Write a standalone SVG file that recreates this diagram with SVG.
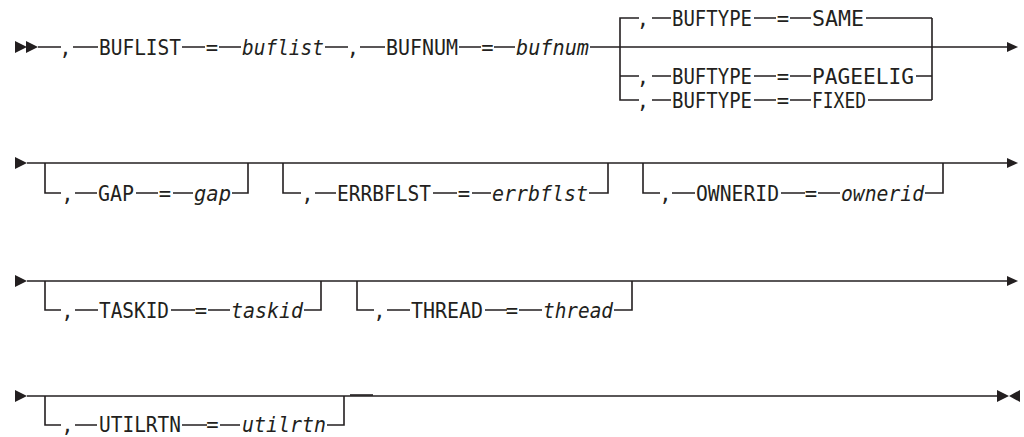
<svg xmlns="http://www.w3.org/2000/svg" width="1024" height="437" viewBox="0 0 1024 437">
<style>
.t{font-family:"DejaVu Sans Mono","Liberation Mono",monospace;font-size:20.5px;fill:#231f20}
.v{font-style:italic}
.c{text-anchor:middle}
.ln{stroke:#231f20;stroke-width:1.6;fill:none}
.ar{fill:#231f20}
</style>
<rect width="1024" height="437" fill="#fff"/>
<g id="connectors" class="ln">
<path d="M38,47H61M73,47H98M182,47H205M219,47H241M325,47H348M360,47H385M459,47H481M494,47H515M590,47H1007"/>
<path d="M639,18H620V100H639M620,76H639"/>
<path d="M652,18H671M754,18H776M790,18H811M866,18H932"/>
<path d="M652,76H671M754,76H776M790,76H811M916,76H932"/>
<path d="M652,100H671M754,100H776M790,100H811M868,100H932"/>
<path d="M932,18V100"/>
<path d="M27,163H1007"/>
<path d="M45,163V193H61M75,193H97M136,193H158M173,193H193M232,193H248V163"/>
<path d="M283,163V193H301M315,193H336M433,193H457M472,193H491M589,193H608V163"/>
<path d="M643,163V193H660M672,193H695M781,193H805M818,193H840M925,193H943V163"/>
<path d="M27,281H1007"/>
<path d="M45,281V310H61M75,310H98M171,310H195M208,310H230M304,310H321V281"/>
<path d="M357,281V310H374M387,310H410M485,310H507M519,310H542M614,310H632V281"/>
<path d="M27,396H997"/>
<path d="M350,395H373"/>
<path d="M45,396V425H61M75,425H97M182,425H207M220,425H240M327,425H344V396"/>
</g>
<g id="arrows" class="ar">
<polygon points="15,41 27,47 15,53"/><polygon points="26,41 38,47 26,53"/>
<polygon points="1007,42 1018,47 1007,52"/>
<polygon points="15,157 27,163 15,169"/><polygon points="1007,158 1018,163 1007,168"/>
<polygon points="15,275 27,281 15,287"/><polygon points="1007,276 1018,281 1007,286"/>
<polygon points="15,390 27,396 15,402"/><polygon points="997,390 1009,396 997,402"/><polygon points="1020,390 1009,396 1020,402"/>
</g>
<g id="buflist" class="t">
<text x="65.5" y="54.5" class="c">,</text>
<text x="99" y="54.5" textLength="82" lengthAdjust="spacingAndGlyphs">BUFLIST</text>
<text x="212" y="54.5" class="c">=</text>
<text x="242" y="54.5" class="v" textLength="82" lengthAdjust="spacingAndGlyphs">buflist</text>
</g>
<g id="bufnum" class="t">
<text x="353" y="54.5" class="c">,</text>
<text x="386" y="54.5" textLength="72" lengthAdjust="spacingAndGlyphs">BUFNUM</text>
<text x="487.5" y="54.5" class="c">=</text>
<text x="516" y="54.5" class="v" textLength="73" lengthAdjust="spacingAndGlyphs">bufnum</text>
</g>
<g id="buftype-same" class="t">
<text x="643" y="25.5" class="c">,</text>
<text x="672" y="25.5" textLength="80" lengthAdjust="spacingAndGlyphs">BUFTYPE</text>
<text x="783" y="25.5" class="c">=</text>
<text x="812" y="25.5" textLength="52" lengthAdjust="spacingAndGlyphs">SAME</text>
</g>
<g id="buftype-pageelig" class="t">
<text x="643" y="83.5" class="c">,</text>
<text x="672" y="83.5" textLength="80" lengthAdjust="spacingAndGlyphs">BUFTYPE</text>
<text x="783" y="83.5" class="c">=</text>
<text x="812" y="83.5" textLength="102" lengthAdjust="spacingAndGlyphs">PAGEELIG</text>
</g>
<g id="buftype-fixed" class="t">
<text x="643" y="107.5" class="c">,</text>
<text x="672" y="107.5" textLength="80" lengthAdjust="spacingAndGlyphs">BUFTYPE</text>
<text x="783" y="107.5" class="c">=</text>
<text x="812" y="107.5" textLength="54" lengthAdjust="spacingAndGlyphs">FIXED</text>
</g>
<g id="gap" class="t">
<text x="67.5" y="200.5" class="c">,</text>
<text x="98" y="200.5" textLength="36" lengthAdjust="spacingAndGlyphs">GAP</text>
<text x="165" y="200.5" class="c">=</text>
<text x="194" y="200.5" class="v" textLength="37" lengthAdjust="spacingAndGlyphs">gap</text>
</g>
<g id="errbflst" class="t">
<text x="307.5" y="200.5" class="c">,</text>
<text x="337" y="200.5" textLength="94" lengthAdjust="spacingAndGlyphs">ERRBFLST</text>
<text x="464" y="200.5" class="c">=</text>
<text x="492" y="200.5" class="v" textLength="96" lengthAdjust="spacingAndGlyphs">errbflst</text>
</g>
<g id="ownerid" class="t">
<text x="665.5" y="200.5" class="c">,</text>
<text x="696" y="200.5" textLength="83" lengthAdjust="spacingAndGlyphs">OWNERID</text>
<text x="811" y="200.5" class="c">=</text>
<text x="841" y="200.5" class="v" textLength="83" lengthAdjust="spacingAndGlyphs">ownerid</text>
</g>
<g id="taskid" class="t">
<text x="67.5" y="317.5" class="c">,</text>
<text x="99" y="317.5" textLength="70" lengthAdjust="spacingAndGlyphs">TASKID</text>
<text x="201" y="317.5" class="c">=</text>
<text x="231" y="317.5" class="v" textLength="72" lengthAdjust="spacingAndGlyphs">taskid</text>
</g>
<g id="thread" class="t">
<text x="379.5" y="317.5" class="c">,</text>
<text x="411" y="317.5" textLength="72" lengthAdjust="spacingAndGlyphs">THREAD</text>
<text x="512" y="317.5" class="c">=</text>
<text x="543" y="317.5" class="v" textLength="70" lengthAdjust="spacingAndGlyphs">thread</text>
</g>
<g id="utilrtn" class="t">
<text x="67.5" y="431.5" class="c">,</text>
<text x="99" y="431.5" textLength="82" lengthAdjust="spacingAndGlyphs">UTILRTN</text>
<text x="212.5" y="431.5" class="c">=</text>
<text x="242" y="431.5" class="v" textLength="84" lengthAdjust="spacingAndGlyphs">utilrtn</text>
</g>
</svg>
